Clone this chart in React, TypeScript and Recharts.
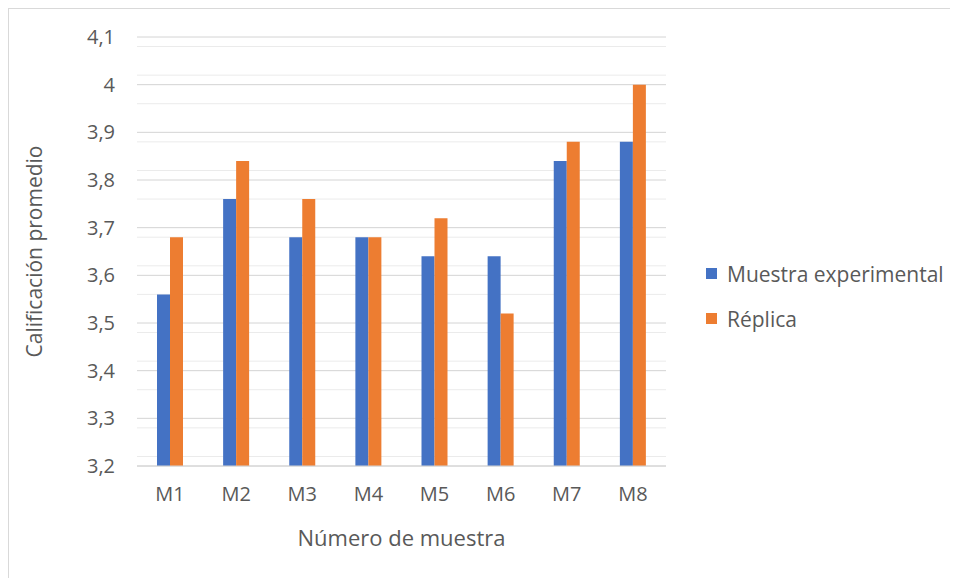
import React from 'react'
import {
  BarChart,
  Bar,
  XAxis,
  YAxis,
  CartesianGrid,
  Legend,
} from 'recharts'

const muestras = ['M1', 'M2', 'M3', 'M4', 'M5', 'M6', 'M7', 'M8']
const experimental = [3.56, 3.76, 3.68, 3.68, 3.64, 3.64, 3.84, 3.88]
const replica = [3.68, 3.84, 3.76, 3.68, 3.72, 3.52, 3.88, 4.0]
const majorTicks = [3.2, 3.3, 3.4, 3.5, 3.6, 3.7, 3.8, 3.9, 4.0, 4.1]
const minorTicks = majorTicks
  .slice(0, -1)
  .flatMap((t) => [0.02, 0.04, 0.06, 0.08].map((d) => Math.round((t + d) * 100) / 100))

const BLUE = '#4472C4'
const ORANGE = '#ED7D31'
const FONT = '"Open Sans", sans-serif'
const TEXT = '#595959'

const chartData = muestras.map((m, i) => ({
  name: m,
  experimental: experimental[i],
  replica: replica[i],
}))

const fmt = (v: number) => String(Math.round(v * 10) / 10).replace('.', ',')

const legendItems = [
  { label: 'Muestra experimental', color: BLUE },
  { label: 'Réplica', color: ORANGE },
]

const LegendBox = () => (
  <div style={{ fontFamily: FONT, fontSize: 21, color: TEXT }}>
    {legendItems.map((it) => (
      <div key={it.label} style={{ display: 'flex', alignItems: 'center', height: 45 }}>
        <span style={{ width: 11, height: 11, background: it.color, marginRight: 10 }} />
        {it.label}
      </div>
    ))}
  </div>
)

export default function App() {
  return (
    <div
      style={{
        width: 950,
        height: 570,
        borderTop: '1px solid #d9d9d9',
        borderLeft: '1px solid #d9d9d9',
        boxSizing: 'border-box',
        background: '#fff',
      }}
    >
      <BarChart
        width={949}
        height={569}
        data={chartData}
        margin={{ top: 28, right: 292, bottom: 0, left: 0 }}
        barSize={13}
        barGap={0}
      >
        {/* minor gridlines every 0,02 */}
        <CartesianGrid vertical={false} stroke='#ebebeb' horizontalValues={minorTicks} />
        <CartesianGrid vertical={false} stroke='#d4d4d4' />
        <XAxis
          dataKey='name'
          axisLine={{ stroke: '#d4d4d4' }}
          tickLine={false}
          tickSize={0}
          tickMargin={21}
          height={112}
          tick={{ fill: TEXT, fontSize: 20, fontFamily: FONT }}
          label={{
            value: 'Número de muestra',
            position: 'insideBottom',
            offset: 32,
            style: { fill: TEXT, fontSize: 22, fontFamily: FONT },
          }}
        />
        <YAxis
          width={128}
          domain={[3.2, 4.1]}
          ticks={majorTicks}
          tickFormatter={fmt}
          axisLine={false}
          tickLine={false}
          tickSize={0}
          tickMargin={22}
          tick={{ fill: TEXT, fontSize: 20, fontFamily: FONT }}
          label={{
            value: 'Calificación promedio',
            angle: -90,
            position: 'insideLeft',
            offset: 26,
            style: { fill: TEXT, fontSize: 21, fontFamily: FONT, textAnchor: 'middle' },
          }}
        />
        <Legend
          layout='horizontal'
          align='center'
          verticalAlign='middle'
          content={<LegendBox />}
          wrapperStyle={{ left: 697, top: 242, width: 260 }}
        />
        <Bar dataKey='experimental' name='Muestra experimental' fill={BLUE} isAnimationActive={false} />
        <Bar dataKey='replica' name='Réplica' fill={ORANGE} isAnimationActive={false} />
      </BarChart>
    </div>
  )
}
